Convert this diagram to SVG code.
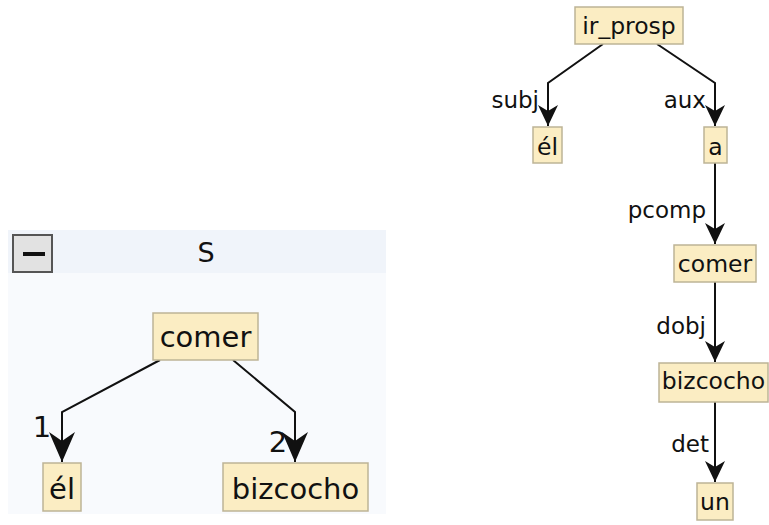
<svg xmlns="http://www.w3.org/2000/svg" width="769" height="525" viewBox="0 0 769 525">
<defs>
<style>
.nd{fill:#fbedc3;stroke:#bdb496;stroke-width:1.5}
.t{font-family:"DejaVu Sans",sans-serif;fill:#111;text-anchor:middle}
.lt{font-size:29px}
.rt{font-size:23.5px}
.lb{font-family:"DejaVu Sans",sans-serif;fill:#111;font-size:23px;text-anchor:end}
.e{fill:none;stroke:#111;stroke-width:2}
</style>
<marker id="ah" markerUnits="userSpaceOnUse" viewBox="-12 -22 24 23" refX="0" refY="0" markerWidth="24" markerHeight="23" orient="auto" overflow="visible">
<path d="M0,0 L-10,-21 L0,-15 L10,-21 Z" fill="#111" transform="rotate(-90)"/>
</marker>
<marker id="ahL" markerUnits="userSpaceOnUse" viewBox="-14 -30 28 31" refX="0" refY="0" markerWidth="28" markerHeight="31" orient="auto" overflow="visible">
<path d="M0,0 L-13,-30 L0,-21 L13,-30 Z" fill="#111" transform="rotate(-90)"/>
</marker>
</defs>
<rect width="769" height="525" fill="#fff"/>
<g id="panel">
<rect x="8" y="230" width="378" height="284" fill="#f8fafd"/>
<rect x="8" y="230" width="378" height="43" fill="#f0f4fa"/>
<rect x="13" y="235" width="39" height="37" fill="#e2e2e2" stroke="#555" stroke-width="2"/>
<rect x="23" y="252" width="22" height="4" fill="#111"/>
<text class="t" x="206" y="262" font-size="27">S</text>
</g>
<g id="connectors">
<path class="e" d="M160,360 L62,412 L62,462" marker-end="url(#ahL)"/>
<path class="e" d="M233,360 L295,412 L295,462" marker-end="url(#ahL)"/>
<path class="e" d="M603,44 L548,83 L548,126" marker-end="url(#ah)"/>
<path class="e" d="M657,44 L715,83 L715,126" marker-end="url(#ah)"/>
<path class="e" d="M715,163 L715,244" marker-end="url(#ah)"/>
<path class="e" d="M715,282 L715,362" marker-end="url(#ah)"/>
<path class="e" d="M715,402 L715,482" marker-end="url(#ah)"/>
</g>
<g id="labels">
<text class="t" x="42" y="437" font-size="29">1</text>
<text class="t" x="278" y="452" font-size="29">2</text>
<text class="lb" x="539" y="108">subj</text>
<text class="lb" x="706" y="108">aux</text>
<text class="lb" x="706" y="218">pcomp</text>
<text class="lb" x="706" y="334">dobj</text>
<text class="lb" x="709" y="452">det</text>
</g>
<g id="n-comer-l"><rect class="nd" x="153" y="313" width="105" height="47"/><text class="t lt" x="205.5" y="347">comer</text></g>
<g id="n-el-l"><rect class="nd" x="43" y="463" width="38" height="48"/><text class="t lt" x="62" y="499">él</text></g>
<g id="n-bizcocho-l"><rect class="nd" x="223" y="463" width="145" height="48"/><text class="t lt" x="295.5" y="499">bizcocho</text></g>
<g id="n-ir_prosp"><rect class="nd" x="575" y="7" width="108" height="37"/><text class="t rt" x="629" y="34">ir_prosp</text></g>
<g id="n-el-r"><rect class="nd" x="533" y="127" width="29" height="36"/><text class="t rt" x="547.5" y="155">él</text></g>
<g id="n-a"><rect class="nd" x="704" y="127" width="23" height="36"/><text class="t rt" x="715.5" y="155">a</text></g>
<g id="n-comer-r"><rect class="nd" x="674" y="245" width="82" height="37"/><text class="t rt" x="715" y="272">comer</text></g>
<g id="n-bizcocho-r"><rect class="nd" x="659" y="363" width="109" height="39"/><text class="t rt" x="713.5" y="389">bizcocho</text></g>
<g id="n-un"><rect class="nd" x="697" y="483" width="36" height="37"/><text class="t rt" x="715" y="510">un</text></g>
</svg>
